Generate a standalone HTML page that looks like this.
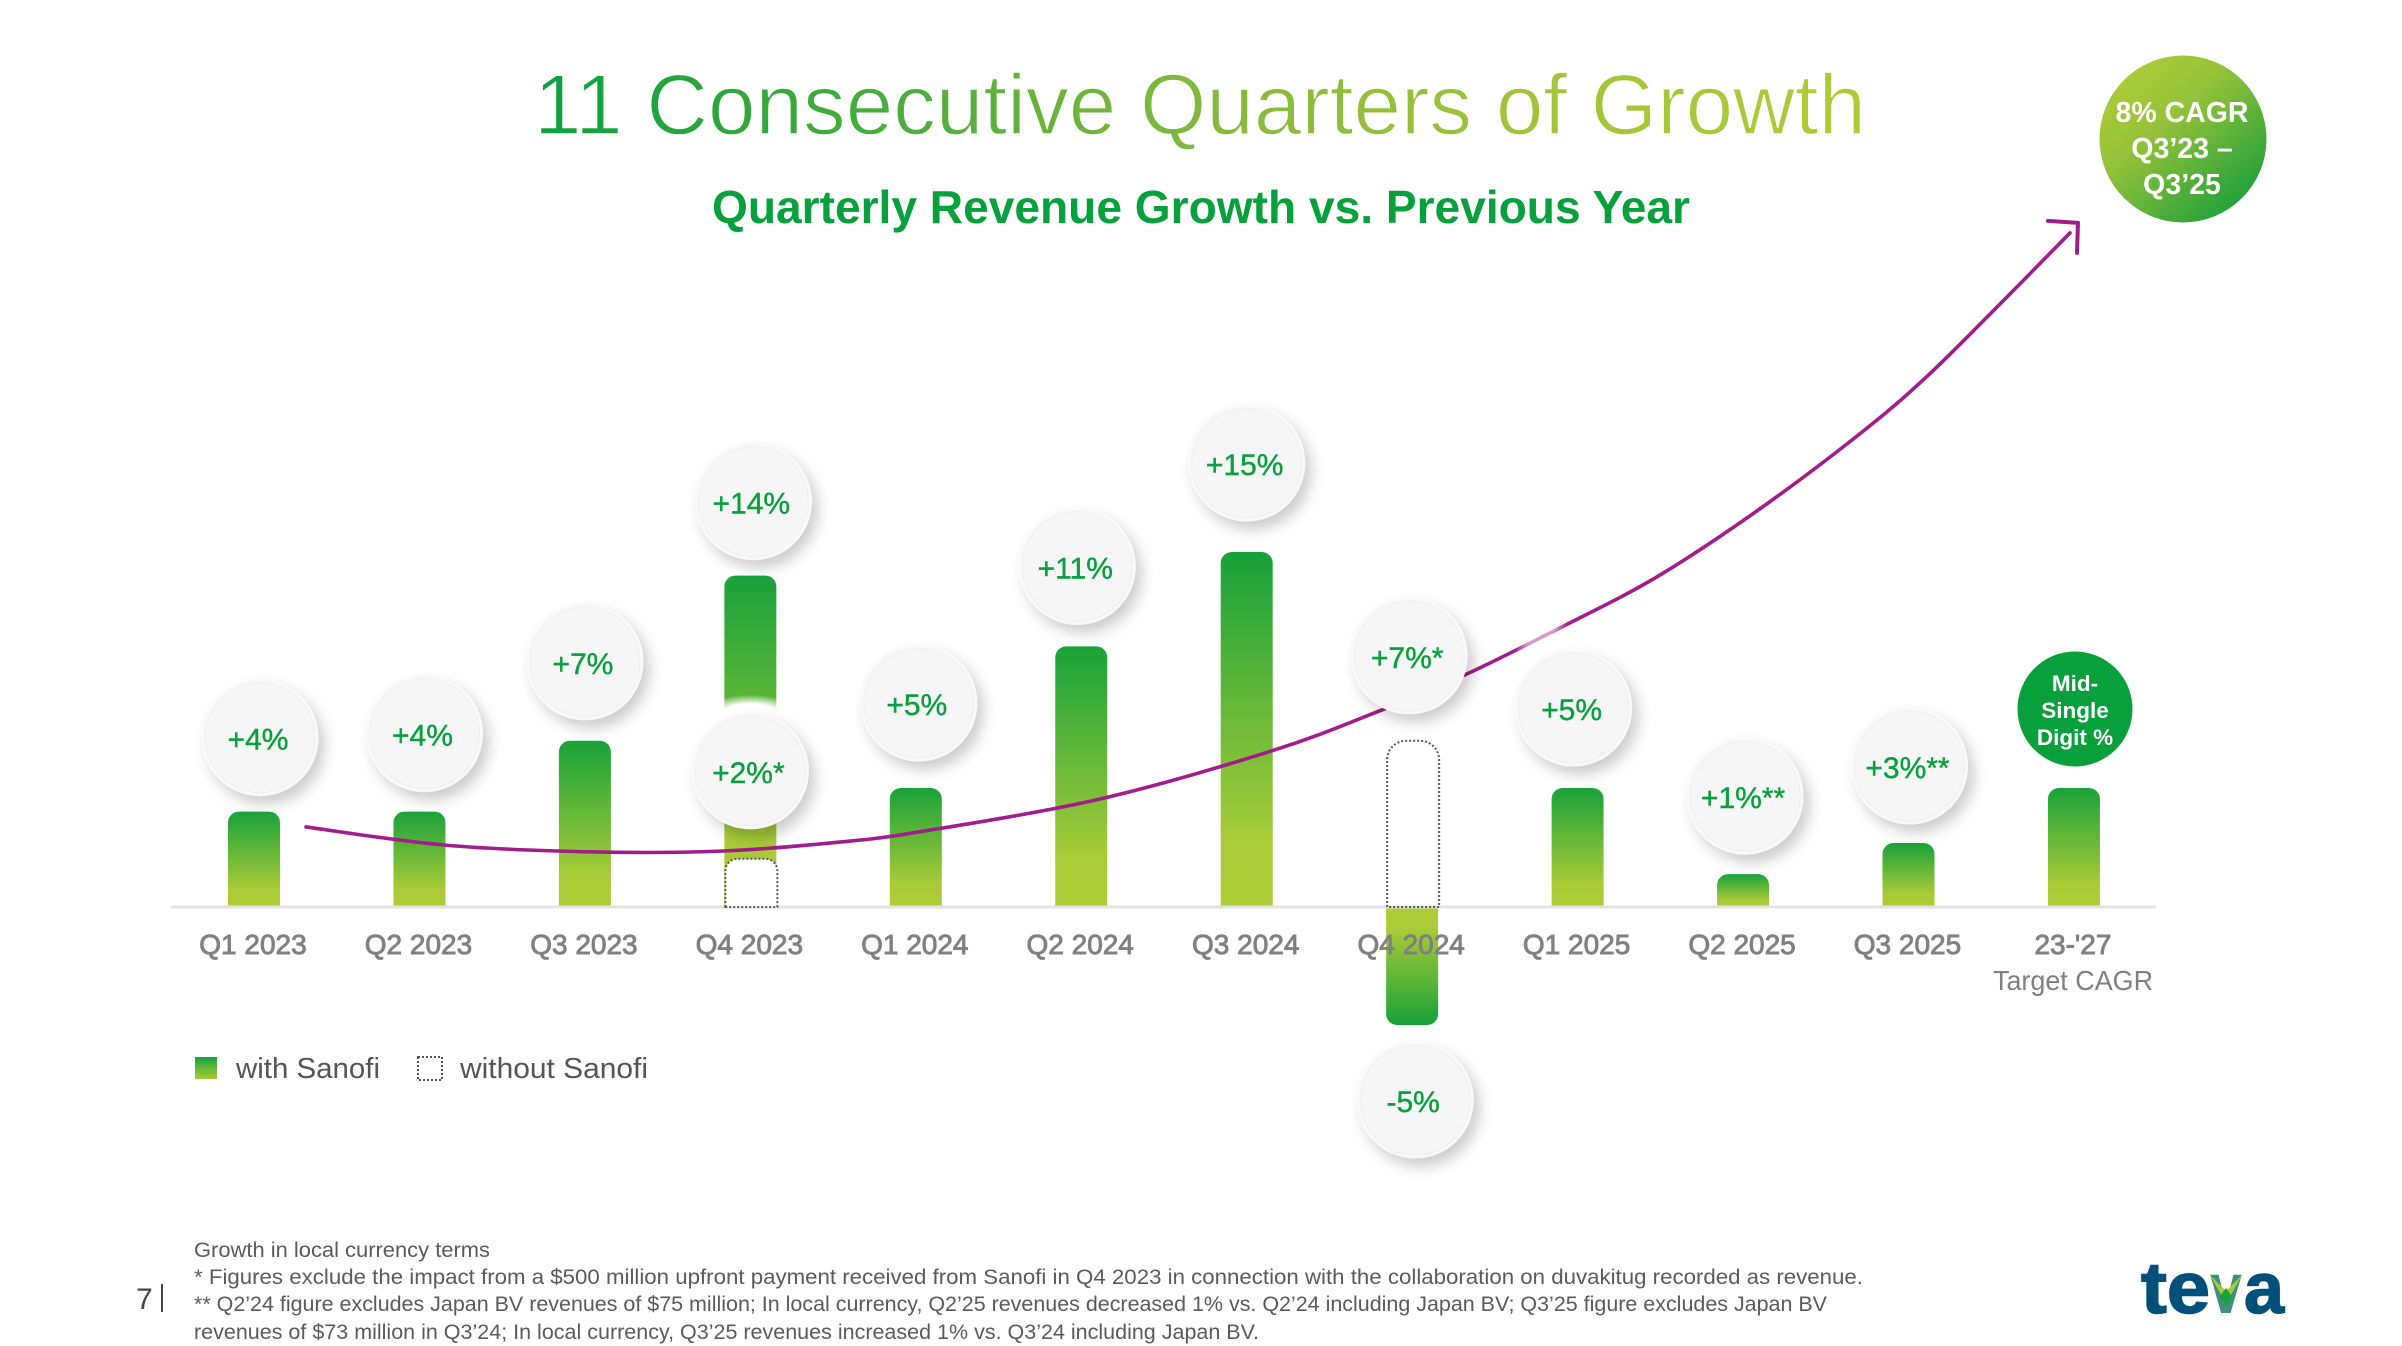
<!DOCTYPE html>
<html lang="en">
<head>
<meta charset="utf-8">
<title>11 Consecutive Quarters of Growth</title>
<style>
html,body{margin:0;padding:0;background:#fff;width:2402px;height:1346px;overflow:hidden}
svg{display:block;font-family:"Liberation Sans",sans-serif}
.cat{font-size:28px;fill:#808080;stroke:#808080;stroke-width:.9px;text-anchor:middle}
.bubble-text{font-size:30px;fill:#08a03c;stroke:#08a03c;stroke-width:.4px;text-anchor:middle}
.foot{font-size:21px;fill:#5a5a5a}
.legend{font-size:29px;fill:#555}
.white{fill:#fff;text-anchor:middle;font-weight:bold}
</style>
</head>
<body>
<svg id="chart" xmlns="http://www.w3.org/2000/svg" width="2402" height="1346" viewBox="0 0 2402 1346">
<defs>
<linearGradient id="titleGrad" gradientUnits="userSpaceOnUse" x1="538" y1="0" x2="1862" y2="0"><stop offset="0" stop-color="#0ba03c"/><stop offset=".5" stop-color="#84b83d"/><stop offset=".75" stop-color="#a0c53a"/><stop offset="1" stop-color="#aecc36"/></linearGradient>
<linearGradient id="barUp" x1="0" y1="0" x2="0" y2="1"><stop offset="0" stop-color="#18a23a"/><stop offset=".82" stop-color="#a9cb37"/><stop offset="1" stop-color="#adcc36"/></linearGradient>
<linearGradient id="barDown" x1="0" y1="1" x2="0" y2="0"><stop offset="0" stop-color="#18a23a"/><stop offset=".82" stop-color="#a9cb37"/><stop offset="1" stop-color="#adcc36"/></linearGradient>
<linearGradient id="cagrGrad" x1=".15" y1=".1" x2=".85" y2=".9"><stop offset="0" stop-color="#aacb37"/><stop offset=".35" stop-color="#96c239"/><stop offset="1" stop-color="#1fa03a"/></linearGradient>
<linearGradient id="swatchGrad" x1="0" y1="0" x2="0" y2="1"><stop offset="0" stop-color="#18a23a"/><stop offset="1" stop-color="#a9cb37"/></linearGradient>
<radialGradient id="glow"><stop offset=".55" stop-color="#fff" stop-opacity="1"/><stop offset="1" stop-color="#fff" stop-opacity="0"/></radialGradient>
<filter id="bubbleShadow" x="-30%" y="-30%" width="170%" height="170%"><feDropShadow dx="6" dy="8" stdDeviation="7" flood-color="#000" flood-opacity=".2"/></filter>
</defs>

<text x="534" y="134" font-size="85" fill="url(#titleGrad)" stroke="#fff" stroke-width="1.4" paint-order="fill" textLength="1332" lengthAdjust="spacingAndGlyphs">11 Consecutive Quarters of Growth</text>
<text x="712" y="223" font-size="46" font-weight="bold" fill="#06a03c" textLength="978" lengthAdjust="spacingAndGlyphs">Quarterly Revenue Growth vs. Previous Year</text>

<g id="bars"></g>
<line x1="171" y1="907" x2="2156" y2="907" stroke="#e3e3e3" stroke-width="3"/>
<g id="dashed"></g>
<g id="trend"></g>
<g id="labels"></g>
<g id="bubbles"></g>

<g>
<circle cx="2075" cy="709" r="57.5" fill="#07a03a"/>
<text class="white" x="2075" y="691" font-size="22.5">Mid-</text>
<text class="white" x="2075" y="718" font-size="22.5">Single</text>
<text class="white" x="2075" y="745" font-size="22.5">Digit %</text>
</g>
<text x="1993" y="990" font-size="28" fill="#808080" textLength="160" lengthAdjust="spacingAndGlyphs">Target CAGR</text>

<g>
<circle cx="2183" cy="139" r="83.5" fill="url(#cagrGrad)"/>
<text class="white" x="2182" y="122" font-size="28.5">8% CAGR</text>
<text class="white" x="2182" y="158" font-size="28.5">Q3’23 –</text>
<text class="white" x="2182" y="194" font-size="28.5">Q3’25</text>
</g>

<g>
<rect x="195" y="1057" width="22" height="22" fill="url(#swatchGrad)"/>
<text class="legend" x="236" y="1078" textLength="144" lengthAdjust="spacingAndGlyphs">with Sanofi</text>
<rect x="418" y="1057" width="24" height="23" fill="none" stroke="#555" stroke-width="2" stroke-dasharray="2 2"/>
<text class="legend" x="460" y="1078" textLength="188" lengthAdjust="spacingAndGlyphs">without Sanofi</text>
</g>

<g>
<text class="foot" x="194" y="1257" textLength="296" lengthAdjust="spacingAndGlyphs">Growth in local currency terms</text>
<text class="foot" x="194" y="1284" textLength="1669" lengthAdjust="spacingAndGlyphs">* Figures exclude the impact from a $500 million upfront payment received from Sanofi in Q4 2023 in connection with the collaboration on duvakitug recorded as revenue.</text>
<text class="foot" x="194" y="1311" textLength="1633" lengthAdjust="spacingAndGlyphs">** Q2’24 figure excludes Japan BV revenues of $75 million; In local currency, Q2’25 revenues decreased 1% vs. Q2’24 including Japan BV; Q3’25 figure excludes Japan BV</text>
<text class="foot" x="194" y="1339" textLength="1065" lengthAdjust="spacingAndGlyphs">revenues of $73 million in Q3’24; In local currency, Q3’25 revenues increased 1% vs. Q3’24 including Japan BV.</text>
</g>

<text x="136" y="1309" font-size="30" fill="#444">7</text>
<rect x="161" y="1284" width="2" height="28" fill="#444"/>

<g>
<text x="2141" y="1313" font-size="72" font-weight="bold" fill="#00507a" stroke="#00507a" stroke-width="1.5" textLength="69" lengthAdjust="spacingAndGlyphs">te</text>
<text x="2210" y="1313" font-size="72" font-weight="bold" fill="#3f8f7f" textLength="32" lengthAdjust="spacingAndGlyphs">v</text>
<polygon points="2210,1275 2225,1290 2225,1302" fill="#a9cb37"/>
<polygon points="2242,1275 2227,1290 2227,1302" fill="#a9cb37"/>
<polygon points="2226,1288 2220,1296 2226,1306 2232,1296" fill="#18a23a"/>
<text x="2244" y="1313" font-size="72" font-weight="bold" fill="#00507a" stroke="#00507a" stroke-width="1.5" textLength="40" lengthAdjust="spacingAndGlyphs">a</text>
</g>
</svg>

<script>
const categories = ['Q1 2023','Q2 2023','Q3 2023','Q4 2023','Q1 2024','Q2 2024','Q3 2024','Q4 2024','Q1 2025','Q2 2025','Q3 2025',"23-'27"];
const barValues = [4,4,7,14,5,11,15,-5,5,1.35,2.67,5];
const withoutSanofiValues = [null,null,null,2,null,null,null,7,null,null,null,null];
const barLabels = ['+4%','+4%','+7%','+14%','+5%','+11%','+15%','-5%','+5%','+1%**','+3%**',null];
const withoutSanofiLabels = [null,null,null,'+2%*',null,null,null,'+7%*',null,null,null,null];
const trendPositions = [0.314,1.154,2.067,2.84,3.54,4.02,5.11,6.15,6.8,7.33,7.906,8.48,9.108,9.735,10.11,10.487,10.976];
const trendValues = [3.35,2.58,2.29,2.33,2.71,3.14,4.53,6.57,8.26,9.83,11.83,13.95,16.86,20.17,22.43,25.04,28.52];

/* layout nudges for the hand-placed bubbles (not data) */
const barBubbleDx = [6,5,0,3,3,-4,0,3,-4,2,1,0];
const barBubbleGap = [74,78,79,74,85,80,89,76,80,78,77,0];
const dashBubbleDx = {3:0,7:-3};
const dashBubbleGap = {3:88,7:85};

const NS = 'http://www.w3.org/2000/svg';
const xScale = i => 254 + 165.45 * i;
const yScale = v => 906 - 23.6 * v;
const BAR_W = 52;

function make(tag, attrs, parent) {
  const n = document.createElementNS(NS, tag);
  for (const k in attrs) n.setAttribute(k, attrs[k]);
  parent.appendChild(n);
  return n;
}

const barsG = document.getElementById('bars');
const dashG = document.getElementById('dashed');
const trendG = document.getElementById('trend');
const labelsG = document.getElementById('labels');
const bubblesG = document.getElementById('bubbles');

function roundedBarPath(x, yBase, yEnd, r) {
  const w = BAR_W, dir = yEnd < yBase ? 1 : -1;
  const rr = Math.min(r, Math.abs(yBase - yEnd));
  const sweep = dir > 0 ? 1 : 0;
  return 'M' + x + ' ' + yBase + 'L' + x + ' ' + (yEnd + dir * rr) +
    'A' + rr + ' ' + rr + ' 0 0 ' + sweep + ' ' + (x + rr) + ' ' + yEnd +
    'L' + (x + w - rr) + ' ' + yEnd +
    'A' + rr + ' ' + rr + ' 0 0 ' + sweep + ' ' + (x + w) + ' ' + (yEnd + dir * rr) +
    'L' + (x + w) + ' ' + yBase + 'Z';
}

categories.forEach(function (cat, i) {
  const v = barValues[i];
  const x = xScale(i) - BAR_W / 2;
  const bar = make('path', {
    d: roundedBarPath(x, v >= 0 ? yScale(0) : yScale(0) + 1, yScale(v) + (v >= 0 ? 0 : 1), 11),
    fill: v >= 0 ? 'url(#barUp)' : 'url(#barDown)'
  }, barsG);
  
  

  const w = withoutSanofiValues[i];
  if (w !== null) {
    const d = make('path', {
      d: roundedBarPath(x + 1, yScale(0) + 1, yScale(w), w > 3 ? 19 : 12),
      fill: v >= 0 ? '#fff' : 'none',
      stroke: '#555',
      'stroke-width': 2,
      'stroke-dasharray': '2 2'
    }, dashG);
    
    
  }

  const t = make('text', { class: 'cat', x: xScale(i) - 1, y: 954 }, labelsG);
  t.textContent = cat;
  
  
});

/* trend curve through the estimated points (Catmull-Rom) */
const pts = trendPositions.map(function (p, i) { return [xScale(p), yScale(trendValues[i])]; });
let dPath = 'M' + pts[0][0] + ' ' + pts[0][1];
for (let i = 0; i < pts.length - 1; i++) {
  const p0 = pts[Math.max(0, i - 1)], p1 = pts[i], p2 = pts[i + 1], p3 = pts[Math.min(pts.length - 1, i + 2)];
  dPath += 'C' + (p1[0] + (p2[0] - p0[0]) / 6) + ' ' + (p1[1] + (p2[1] - p0[1]) / 6) + ' ' +
    (p2[0] - (p3[0] - p1[0]) / 6) + ' ' + (p2[1] - (p3[1] - p1[1]) / 6) + ' ' + p2[0] + ' ' + p2[1];
}
const trendLine = make('path', { d: dPath, fill: 'none', stroke: '#a11d8a', 'stroke-width': 3.6, 'stroke-linecap': 'round' }, trendG);


const last = pts[pts.length - 1];
const tip = [last[0] + 8, last[1] - 10];
const head = make('path', {
  d: 'M' + (tip[0] - 30) + ' ' + (tip[1] - 2) + 'L' + tip[0] + ' ' + tip[1] + 'L' + (tip[0] - 1) + ' ' + (tip[1] + 30),
  fill: 'none', stroke: '#a11d8a', 'stroke-width': 4, 'stroke-linecap': 'round', 'stroke-linejoin': 'round'
}, trendG);


const glareX = xScale(7.78), glareY = yScale(11.4);
const glare = make('ellipse', { cx: glareX, cy: glareY, rx: 30, ry: 5, fill: 'url(#glow)', opacity: .55, transform: 'rotate(-28 ' + glareX + ' ' + glareY + ')' }, trendG);



function addBubble(label, cx, cy, name) {
  const g = make('g', {}, bubblesG);
  
  
  const outer = make('circle', { cx: cx, cy: cy, r: 58.5, fill: '#f9f9f9', filter: 'url(#bubbleShadow)' }, g);
  
  
  const inner = make('circle', { cx: cx, cy: cy, r: 55, fill: '#f6f6f6', stroke: '#efefef', 'stroke-width': 1 }, g);
  
  
  const t = make('text', { class: 'bubble-text', x: cx - 2, y: cy + 12 }, g);
  t.textContent = label;
  
  
}

categories.forEach(function (cat, i) {
  const key = cat.toLowerCase().replace(/[^a-z0-9]+/g, '-');
  if (withoutSanofiLabels[i] !== null) {
    const cx = xScale(i) + dashBubbleDx[i];
    const cy = yScale(withoutSanofiValues[i]) - dashBubbleGap[i];
    if (barValues[i] > 0) {
      const halo = make('ellipse', { cx: cx, cy: cy - 56, rx: 50, ry: 20, fill: 'url(#glow)' }, bubblesG);
      
      
    }
    addBubble(withoutSanofiLabels[i], cx, cy, 'bubble-without-sanofi-' + key);
  }
  if (barLabels[i] !== null) {
    const v = barValues[i];
    const cx = xScale(i) + barBubbleDx[i];
    const cy = v >= 0 ? yScale(v) - barBubbleGap[i] : yScale(v) + barBubbleGap[i];
    addBubble(barLabels[i], cx, cy, 'bubble-' + key);
  }
});
</script>
</body>
</html>
